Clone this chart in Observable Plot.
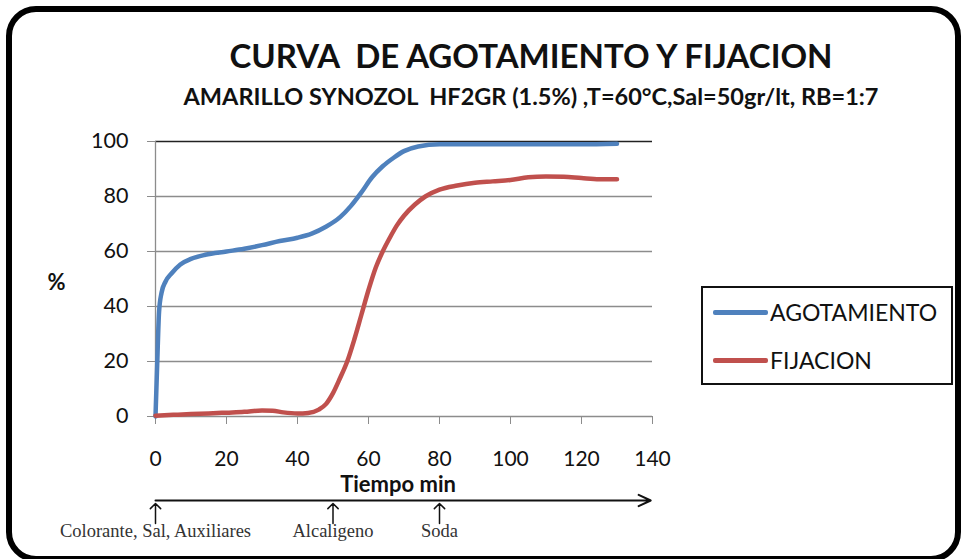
<!DOCTYPE html>
<html>
<head>
<meta charset="utf-8">
<script src="https://cdn.jsdelivr.net/npm/d3@7"></script>
<script src="https://cdn.jsdelivr.net/npm/@observablehq/plot@0.6"></script>
<style>
  html, body { margin: 0; padding: 0; background: #fff; }
  #wrap { position: relative; width: 962px; height: 559px; overflow: hidden; font-family: Lato, "Open Sans", sans-serif; color: #111; }
  #wrap svg { position: absolute; left: 0; top: 0; }
  .frame { position: absolute; left: 6px; top: 6px; width: 955px; height: 556px; box-sizing: border-box; border: 6px solid #000; border-radius: 30px; }
  .title { position: absolute; left: 0; width: 1062px; text-align: center; white-space: pre; font-weight: 700; }
  #t1 { top: 35px; font-size: 33px; line-height: 40px; }
  #t2 { top: 82px; font-size: 23.5px; line-height: 28px; }
  #legend { position: absolute; left: 701px; top: 286px; width: 252px; height: 99px; box-sizing: border-box; border: 2px solid #111; }
  .item { position: absolute; left: 10px; height: 28px; width: 240px; }
  .item .sw { position: absolute; left: 0; top: 12px; width: 55px; height: 4.5px; border-radius: 2px; }
  .item .lb { position: absolute; left: 57px; top: 0; font-size: 23px; line-height: 28px; }
</style>
</head>
<body>
<div id="wrap">
  <div class="frame"></div>
  <div class="title" id="t1"></div>
  <div class="title" id="t2"></div>
  <div id="legend"></div>
</div>
<script>
// Texts
const titulo = "CURVA  DE AGOTAMIENTO Y FIJACION";
const subtitulo = "AMARILLO SYNOZOL  HF2GR (1.5%) ,T=60°C,Sal=50gr/lt, RB=1:7";

// Series names and colours
const series = ["AGOTAMIENTO", "FIJACION"];
const colores = ["#4F81BD", "#C0504D"];

// Axis ticks
const ticksX = [0, 20, 40, 60, 80, 100, 120, 140];
const ticksY = [0, 20, 40, 60, 80, 100];

// Exhaustion curve (time in min, % exhaustion)
const tiempoAgot = [0, 0.5, 1, 1.7, 2.8, 4.5, 7, 10, 14, 20, 25, 30, 35, 40, 44, 48, 52, 55, 58, 61, 64, 67, 70, 74, 80, 90, 100, 110, 120, 130];
const agotamiento = [0, 20, 38, 45, 49, 52, 55.3, 57.3, 58.8, 60, 61, 62.3, 63.8, 65, 66.5, 69, 72.5, 76.5, 81.5, 87, 91, 94, 96.5, 98.2, 99, 99, 99, 99, 99, 99.2];

// Fixation curve (time in min, % fixation)
const tiempoFij = [0, 5, 10, 15, 20, 25, 30, 33, 36, 40, 43, 46, 48, 50, 52, 54, 56, 58, 60, 62, 64, 66, 68, 70, 73, 76, 80, 85, 90, 95, 100, 105, 110, 115, 120, 125, 130];
const fijacion = [0.3, 0.6, 0.9, 1.1, 1.4, 1.7, 2.2, 2.1, 1.5, 1.1, 1.3, 2.5, 4.5, 8.5, 14, 20, 28, 37, 46, 54, 60, 65, 69.5, 73, 77, 80, 82.5, 84, 85, 85.5, 86, 87, 87.3, 87.2, 86.7, 86.3, 86.3];

// Process additions along the time line
const eventoTiempo = [0, 50, 80];
const eventoNombre = ["Colorante, Sal, Auxiliares", "Alcaligeno", "Soda"];
const ejeTiempo = [0, 139.5];

const datos = [
  ...tiempoAgot.map((t, i) => ({t, v: agotamiento[i], serie: series[0]})),
  ...tiempoFij.map((t, i) => ({t, v: fijacion[i], serie: series[1]}))
];
const eventos = eventoTiempo.map((t, i) => ({t, nombre: eventoNombre[i]}));

document.getElementById("t1").textContent = titulo;
document.getElementById("t2").textContent = subtitulo;

const legend = document.getElementById("legend");
series.forEach((s, i) => {
  const it = document.createElement("div");
  it.className = "item";
  it.style.top = (i === 0 ? 10 : 58) + "px";
  it.innerHTML = `<div class="sw" style="background:${colores[i]}"></div><div class="lb">${s}</div>`;
  legend.appendChild(it);
});

const grid = "#8c8c8c";
const chart = Plot.plot({
  width: 962,
  height: 559,
  marginLeft: 155,
  marginRight: 310,
  marginTop: 141,
  marginBottom: 143,
  style: { fontFamily: "Lato, 'Open Sans', sans-serif", background: "transparent", overflow: "visible" },
  x: { domain: [0, 140] },
  y: { domain: [0, 100] },
  color: { domain: series, range: colores },
  marks: [
    Plot.ruleY(ticksY.filter(d => d < 100), { stroke: grid, strokeWidth: 1.3 }),
    Plot.ruleY([100], { stroke: "#222", strokeWidth: 1.3 }),
    Plot.ruleX([0], { stroke: grid, strokeWidth: 1.3 }),
    Plot.axisY({ ticks: ticksY, tickSize: 8, tickPadding: 19, fontSize: 21.5, label: null, stroke: grid, fill: "#111" }),
    Plot.axisX({ ticks: ticksX, tickSize: 8, tickPadding: 27, fontSize: 21, label: null, stroke: grid, fill: "#111" }),
    Plot.text(["%"], { frameAnchor: "left", textAnchor: "middle", lineAnchor: "middle", dx: -99, dy: 3.5, text: d => d, fontSize: 22, fontWeight: 700, fill: "#111" }),
    Plot.text(["Tiempo min"], { frameAnchor: "bottom", lineAnchor: "middle", dx: -6, dy: 68, text: d => d, fontSize: 22, fontWeight: 700, fill: "#111" }),
    Plot.line(datos, { x: "t", y: "v", stroke: "serie", z: "serie", strokeWidth: 4.5, curve: "monotone-x", strokeLinecap: "round" }),
    // time line with process additions
    Plot.arrow([ejeTiempo], { x1: d => d[0], x2: d => d[1], y1: () => 0, y2: () => 0, dy: 84, stroke: "#111", strokeWidth: 2, headLength: 10, headAngle: 50 }),
    Plot.vector(eventos, { x: "t", y: () => 0, length: 20, rotate: 0, anchor: "start", shape: "arrow", r: 4.5, dy: 107, stroke: "#111", strokeWidth: 1.5 }),
    Plot.text(eventos, { x: "t", y: () => 0, text: "nombre", dy: 115, fontFamily: "'Liberation Serif', serif", fontSize: 18.5, fill: "#333" })
  ]
});
document.getElementById("wrap").appendChild(chart);
</script>
</body>
</html>
